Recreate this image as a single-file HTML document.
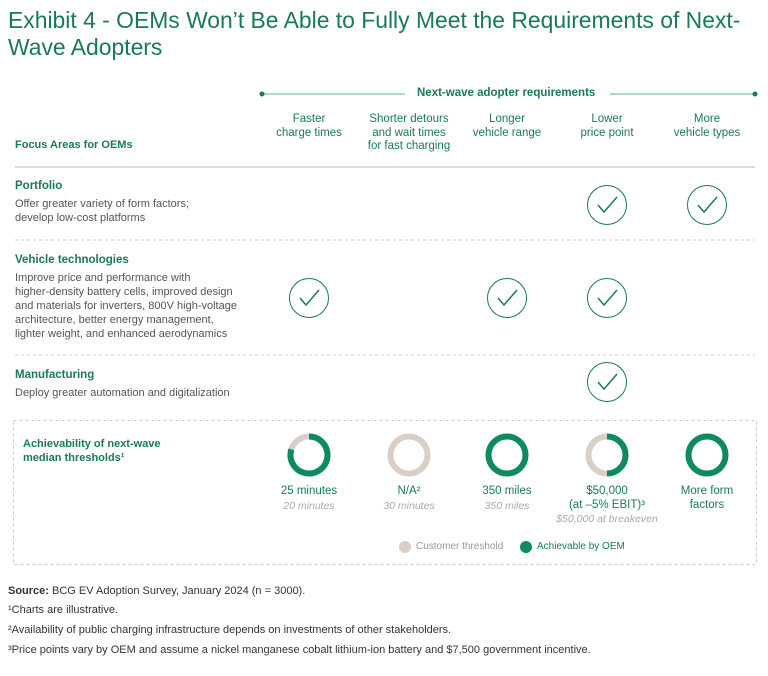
<!DOCTYPE html>
<html><head><meta charset="utf-8"><style>
body{margin:0;width:768px;height:676px;background:#fff;font-family:"Liberation Sans",sans-serif;position:relative;overflow:hidden}
.a{position:absolute;white-space:nowrap}
.g{color:#197A56}
.t{font-size:11px;color:#555;line-height:14px}
.h{font-size:11.5px;color:#197A56;text-align:center;line-height:13.5px;transform:translateX(-50%)}
</style></head><body>
<div class="a g" style="left:8px;top:7px;font-size:22.9px;line-height:27px;white-space:normal;width:755px">Exhibit 4 - OEMs Won’t Be Able to Fully Meet the Requirements of Next-Wave Adopters</div>
<svg class="a" style="left:0;top:0" width="768" height="676">
<line x1="262" y1="94" x2="405" y2="94" stroke="#8fcfb5" stroke-width="1.5"/><line x1="610" y1="94" x2="755" y2="94" stroke="#8fcfb5" stroke-width="1.5"/>
<circle cx="262" cy="94" r="2.5" fill="#197A56"/><circle cx="755" cy="94" r="2.5" fill="#197A56"/>
<line x1="15" y1="167" x2="755" y2="167" stroke="#bbb"/>
<line x1="15" y1="240" x2="755" y2="240" stroke="#ccc" stroke-dasharray="3,3"/>
<line x1="15" y1="355" x2="755" y2="355" stroke="#ccc" stroke-dasharray="3,3"/>
<rect x="13.5" y="420.5" width="743" height="144" fill="none" stroke="#ccc" stroke-dasharray="3,3"/>
<g id="checks"></g><g id="donuts"></g>
<circle cx="405" cy="547" r="6" fill="#d9cfc4"/><circle cx="526" cy="547" r="6" fill="#0E8A5F"/>
</svg>
<div class="a g" style="left:417px;top:87px;font-size:11.5px;font-weight:bold">Next-wave adopter requirements</div>
<div class="a h" style="left:309px;top:113px">Faster<br>charge times</div>
<div class="a h" style="left:409px;top:113px">Shorter detours<br>and wait times<br>for fast charging</div>
<div class="a h" style="left:507px;top:113px">Longer<br>vehicle range</div>
<div class="a h" style="left:607px;top:113px">Lower<br>price point</div>
<div class="a h" style="left:707px;top:113px">More<br>vehicle types</div>
<div class="a g" style="left:15px;top:139px;font-size:11px;font-weight:bold">Focus Areas for OEMs</div>
<div class="a g" style="left:15px;top:180px;font-size:11.5px;font-weight:bold">Portfolio</div>
<div class="a t" style="left:15px;top:197px">Offer greater variety of form factors;<br>develop low-cost platforms</div>
<div class="a g" style="left:15px;top:254px;font-size:11.5px;font-weight:bold">Vehicle technologies</div>
<div class="a t" style="left:15px;top:271px">Improve price and performance with<br>higher-density battery cells, improved design<br>and materials for inverters, 800V high-voltage<br>architecture, better energy management,<br>lighter weight, and enhanced aerodynamics</div>
<div class="a g" style="left:15px;top:369px;font-size:11.5px;font-weight:bold">Manufacturing</div>
<div class="a t" style="left:15px;top:386px">Deploy greater automation and digitalization</div>
<div class="a g" style="left:23px;top:437px;font-size:11px;font-weight:bold;line-height:14px">Achievability of next-wave<br>median thresholds¹</div>
<div id="labels"></div>
<div class="a" style="left:416px;top:541px;font-size:10px;color:#999">Customer threshold</div>
<div class="a" style="left:537px;top:541px;font-size:10px;color:#197A56">Achievable by OEM</div>
<div class="a" style="left:8px;top:585px;font-size:11px;color:#333"><b>Source:</b> BCG EV Adoption Survey, January 2024 (n = 3000).</div>
<div class="a" style="left:8px;top:604px;font-size:11px;color:#333">¹Charts are illustrative.</div>
<div class="a" style="left:8px;top:624px;font-size:11px;color:#333">²Availability of public charging infrastructure depends on investments of other stakeholders.</div>
<div class="a" style="left:8px;top:644px;font-size:11px;color:#333">³Price points vary by OEM and assume a nickel manganese cobalt lithium-ion battery and $7,500 government incentive.</div>
<script>
const colX=[309,409,507,607,707];
const rowY=[205,298,382];
const checkMatrix=[[0,0,0,1,1],[1,0,1,1,0],[0,0,0,1,0]];
const achievedShare=[0.8,0,1,0.5,1];
const mainLabels=[["25 minutes"],["N/A²"],["350 miles"],["$50,000","(at –5% EBIT)³"],["More form","factors"]];
const subLabels=[["20 minutes"],["30 minutes"],["350 miles"],["$50,000 at breakeven"],[]];
const NS="http://www.w3.org/2000/svg";
const cg=document.getElementById('checks');
checkMatrix.forEach((row,r)=>row.forEach((v,c)=>{if(!v)return;
 const g=document.createElementNS(NS,'g');
 
 
 const x=colX[c],y=rowY[r];
 g.innerHTML=`<circle cx="${x}" cy="${y}" r="19.5" fill="none" stroke="#197A56" stroke-width="1"/><polyline points="${x-9},${y} ${x-3},${y+7} ${x+10},${y-8}" fill="none" stroke="#197A56" stroke-width="1.5"/>`;
 cg.appendChild(g);}));
const dg=document.getElementById('donuts');const R=18.5,cy=455;
achievedShare.forEach((s,i)=>{
 const x=colX[i];
 const g=document.createElementNS(NS,'g');
 
 
 let h=`<circle cx="${x}" cy="${cy}" r="${R}" fill="none" stroke="#d9cfc4" stroke-width="6"/>`;
 if(s>=1)h+=`<circle cx="${x}" cy="${cy}" r="${R}" fill="none" stroke="#0E8A5F" stroke-width="6"/>`;
 else if(s>0){const a=s*2*Math.PI;const ex=x+R*Math.sin(a),ey=cy-R*Math.cos(a);
  h+=`<path d="M${x},${cy-R} A${R},${R} 0 ${s>0.5?1:0} 1 ${ex},${ey}" fill="none" stroke="#0E8A5F" stroke-width="6"/>`;}
 g.innerHTML=h;dg.appendChild(g);
 const L=document.getElementById('labels');
 const d=document.createElement('div');
 
 
 d.className='a';d.style.cssText=`left:${x}px;top:485px;transform:translateX(-50%);text-align:center;font-size:11.5px;line-height:13.5px`;
 d.innerHTML=`<div style="color:#197A56">${mainLabels[i].join('<br>')}</div><div style="color:#aaa;font-style:italic;font-size:10.5px;line-height:13px;margin-top:1px">${subLabels[i].join('<br>')}</div>`;
 L.appendChild(d);
});
</script>
</body></html>
